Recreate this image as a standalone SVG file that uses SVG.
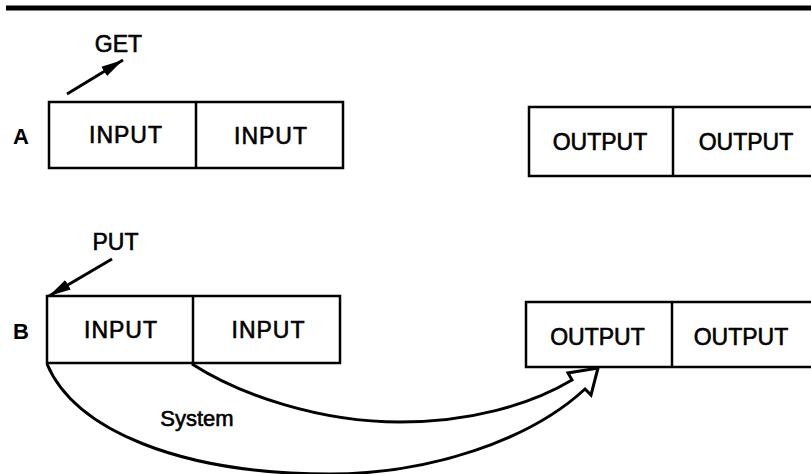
<svg xmlns="http://www.w3.org/2000/svg" width="811" height="474" viewBox="0 0 811 474">
<style>
.box{fill:#fff;stroke:#000;stroke-width:2.5}
.div{stroke:#000;stroke-width:2.5}
.t{font-family:"Liberation Sans",Arial,sans-serif;font-size:23px;fill:#000;text-anchor:middle;stroke:#000;stroke-width:0.6}
.in{letter-spacing:1px}
.lbl{font-family:"Liberation Sans",Arial,sans-serif;font-size:22px;font-weight:bold;fill:#000}
.conn{fill:none;stroke:#000;stroke-width:3;stroke-linejoin:miter}
</style>
<defs>
<marker id="ah" markerUnits="userSpaceOnUse" markerWidth="24" markerHeight="14" refX="22" refY="7" orient="auto">
<path d="M0,1.5 L22,7 L0,12.5 Z" fill="#000"/>
</marker>
</defs>
<rect x="0" y="0" width="811" height="474" fill="#fff"/>
<line x1="6" y1="8" x2="811" y2="8" stroke="#000" stroke-width="5"/>

<g id="labelA"><text class="lbl" x="13" y="144">A</text></g>
<g id="labelB"><text class="lbl" x="13" y="339">B</text></g>

<g id="A-input">
<rect class="box" x="49" y="102" width="294" height="66"/>
<line class="div" x1="196" y1="102" x2="196" y2="168"/>
<text class="t in" x="126" y="143">INPUT</text>
<text class="t in" x="271" y="144">INPUT</text>
</g>
<g id="A-output">
<rect class="box" x="529" y="107" width="290" height="69"/>
<line class="div" x1="673" y1="107" x2="673" y2="176"/>
<text class="t" x="600" y="150">OUTPUT</text>
<text class="t" x="746" y="150">OUTPUT</text>
</g>
<g id="B-input">
<rect class="box" x="47" y="296" width="293" height="67"/>
<line class="div" x1="193" y1="296" x2="193" y2="363"/>
<text class="t in" x="121" y="338">INPUT</text>
<text class="t in" x="268.5" y="338">INPUT</text>
</g>
<g id="B-output">
<rect class="box" x="526" y="302" width="293" height="65"/>
<line class="div" x1="672" y1="302" x2="672" y2="367"/>
<text class="t" x="597.5" y="345">OUTPUT</text>
<text class="t" x="741" y="345">OUTPUT</text>
</g>

<g id="GET"><text class="t" x="118.5" y="52">GET</text></g>
<g id="PUT"><text class="t" x="115.5" y="250">PUT</text></g>
<g id="System"><text class="t" x="197" y="426" style="font-size:22px">System</text></g>

<g id="connectors">
<line class="conn" x1="67" y1="94" x2="123" y2="60" marker-end="url(#ah)"/>
<line class="conn" x1="112" y1="259" x2="49" y2="296" marker-end="url(#ah)"/>
<path class="conn" d="M47,364 C75,430 180,474 330,474 C430,474 530,440 585,389 L591,395 L598,368 L568,373 L572,380 C530,405 470,422 400,422 C320,422 240,395 192,364"/>
</g>
</svg>
